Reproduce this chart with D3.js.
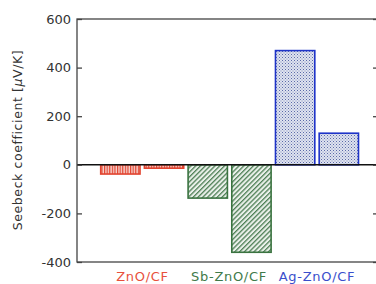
<!DOCTYPE html>
<meta charset="utf-8">
<style>
body { margin: 0; background: #fff; }
text { font-family: "DejaVu Sans", "Liberation Sans", sans-serif; }
</style>
<body>
<script src="https://d3js.org/d3.v7.min.js"></script>
<script>
// data
var bars = ["z1", "z2", "s1", "s2", "a1", "a2"];
var seebeck = [-38, -14, -137, -360, 470, 130];
var groupOf = ["zno", "zno", "sb", "sb", "ag", "ag"];
var groupNames = ["ZnO/CF", "Sb-ZnO/CF", "Ag-ZnO/CF"];
var groupKeys = ["zno", "sb", "ag"];
var yTicks = [-400, -200, 0, 200, 400, 600];

var colors = { zno: "#e2432f", sb: "#3a7340", ag: "#1f34c8" };
var labelColors = { zno: "#e8503c", sb: "#3f7a4a", ag: "#3a4fcc" };

var W = 376, H = 284;
var plotL = 77, plotR = 378, plotT = 19, plotB = 262;

var svg = d3.select("body").append("svg")
    .attr("width", W).attr("height", H);

// patterns
var defs = svg.append("defs");
var pz = defs.append("pattern").attr("id", "pz")
    .attr("patternUnits", "userSpaceOnUse").attr("width", 2.6).attr("height", 4);
pz.append("rect").attr("width", 2.6).attr("height", 4).attr("fill", "#f7d2cc");
pz.append("rect").attr("width", 1.2).attr("height", 4).attr("fill", "#e2432f");

var ps = defs.append("pattern").attr("id", "ps")
    .attr("patternUnits", "userSpaceOnUse").attr("width", 3.4).attr("height", 4)
    .attr("patternTransform", "rotate(45)");
ps.append("rect").attr("width", 3.4).attr("height", 4).attr("fill", "#eaf0ea");
ps.append("rect").attr("width", 1.3).attr("height", 4).attr("fill", "#4f8056");

var pa = defs.append("pattern").attr("id", "pa")
    .attr("patternUnits", "userSpaceOnUse").attr("width", 3).attr("height", 3);
pa.append("rect").attr("width", 3).attr("height", 3).attr("fill", "#dfe3f0");
pa.append("rect").attr("x", 0).attr("y", 0).attr("width", 1).attr("height", 1).attr("fill", "#5b6aa8");
pa.append("rect").attr("x", 1.5).attr("y", 1.5).attr("width", 1).attr("height", 1).attr("fill", "#7f8bbb");

var fills = { zno: "url(#pz)", sb: "url(#ps)", ag: "url(#pa)" };

var y = d3.scaleLinear().domain([-400, 600]).range([plotB, plotT]);
var x = d3.scaleBand().domain(bars).range([100.7, 358.5]).paddingInner(0.1).paddingOuter(0);

// bars
svg.selectAll("rect.bar")
    .data(bars)
  .enter().append("rect")
    .attr("class", "bar")
    .attr("x", function(d) { return x(d); })
    .attr("width", x.bandwidth())
    .attr("y", function(d, i) { return y(Math.max(0, seebeck[i])); })
    .attr("height", function(d, i) { return Math.abs(y(seebeck[i]) - y(0)); })
    .attr("fill", function(d, i) { return fills[groupOf[i]]; })
    .attr("stroke", function(d, i) { return colors[groupOf[i]]; })
    .attr("stroke-width", 1.6);

// zero line
svg.append("line")
    .attr("x1", plotL).attr("x2", W)
    .attr("y1", y(0)).attr("y2", y(0))
    .attr("stroke", "#111").attr("stroke-width", 1.4);

// frame
svg.append("rect")
    .attr("x", plotL).attr("y", plotT)
    .attr("width", plotR - plotL).attr("height", plotB - plotT)
    .attr("fill", "none").attr("stroke", "#444").attr("stroke-width", 1.3);

// left axis, ticks point inward
var yAxis = svg.append("g")
    .attr("transform", "translate(" + plotL + ",0)")
    .call(d3.axisRight(y).tickValues(yTicks).tickSize(5).tickFormat(""));
yAxis.select(".domain").remove();
yAxis.selectAll("line").attr("stroke", "#444").attr("stroke-width", 1.3);

// right axis ticks (mostly off the page)
var yAxisR = svg.append("g")
    .attr("transform", "translate(" + plotR + ",0)")
    .call(d3.axisLeft(y).tickValues(yTicks).tickSize(5).tickFormat(""));
yAxisR.select(".domain").remove();
yAxisR.selectAll("line").attr("stroke", "#444").attr("stroke-width", 1.3);

// tick labels
svg.selectAll("text.ytick")
    .data(yTicks)
  .enter().append("text")
    .attr("class", "ytick")
    .attr("x", 71)
    .attr("y", function(d) { return y(d); })
    .attr("dy", "0.35em")
    .attr("text-anchor", "end")
    .attr("font-size", 13)
    .attr("fill", "#333")
    .text(function(d) { return d; });

// y label
var yl = svg.append("text")
    .attr("transform", "translate(22," + 140 + ") rotate(-90)")
    .attr("text-anchor", "middle")
    .attr("font-size", 12.5)
    .attr("letter-spacing", 0.6)
    .attr("fill", "#333");
yl.append("tspan").text("Seebeck coefficient [");
yl.append("tspan").attr("font-style", "italic").text("\u03bc");
yl.append("tspan").text("V/K]");

// category labels
var groupCenters = [142.5, 229, 317];
svg.selectAll("text.cat")
    .data(groupNames)
  .enter().append("text")
    .attr("class", "cat")
    .attr("x", function(d, i) { return groupCenters[i]; })
    .attr("y", 281)
    .attr("text-anchor", "middle")
    .attr("font-size", 13)
    .attr("letter-spacing", 0.7)
    .attr("fill", function(d, i) { return labelColors[groupKeys[i]]; })
    .text(function(d) { return d; });
</script>
</body>
